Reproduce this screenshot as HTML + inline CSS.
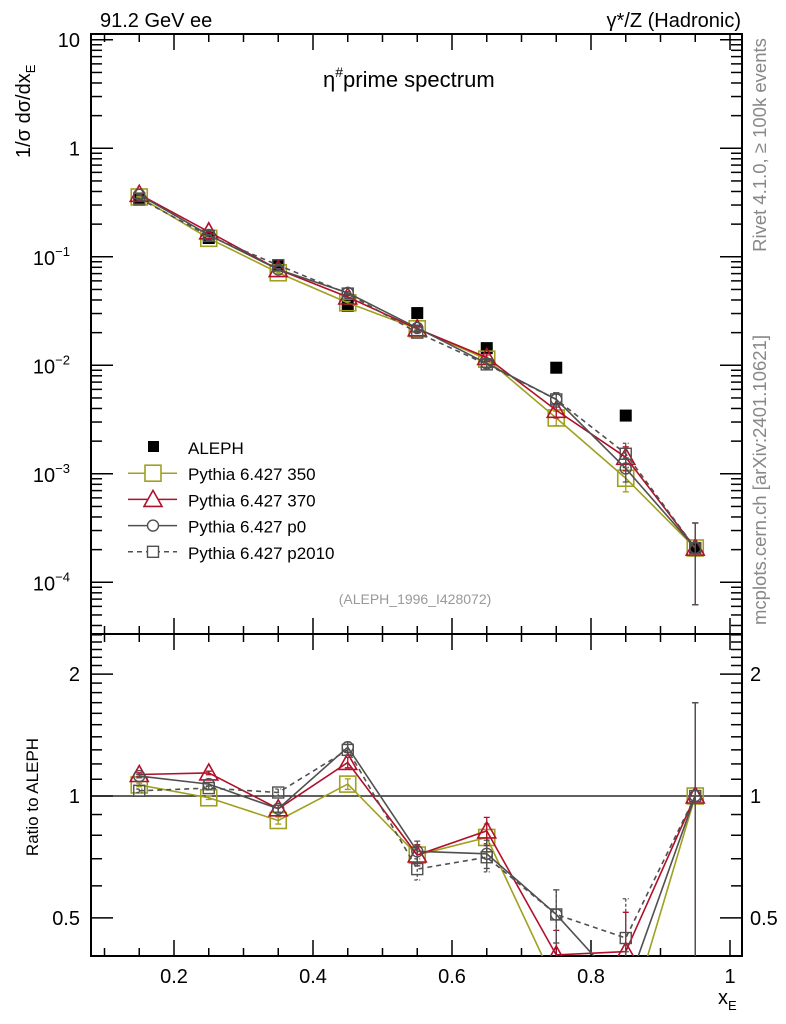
<!DOCTYPE html>
<html><head><meta charset="utf-8"><style>
html,body{margin:0;padding:0;background:#fff;width:786px;height:1024px;overflow:hidden}
svg{display:block;font-family:"Liberation Sans",sans-serif}
</style></head><body>
<svg id="c" width="786" height="1024" xmlns="http://www.w3.org/2000/svg">
<defs>
<clipPath id="cm"><rect x="91" y="34" width="651" height="600"/></clipPath>
<clipPath id="cr"><rect x="91" y="634" width="651" height="322"/></clipPath>
</defs>
<g id="frames"></g>
<g id="series-main" clip-path="url(#cm)"></g>
<g id="series-ratio" clip-path="url(#cr)"></g>
<g id="labels">
<text x="100" y="27" font-size="20">91.2 GeV ee</text>
<text x="741" y="27" font-size="20" text-anchor="end">γ*/Z (Hadronic)</text>
<text x="323" y="87" font-size="22">η<tspan font-size="14" dy="-10">#</tspan><tspan dy="10">prime spectrum</tspan></text>
<text x="415" y="604" font-size="14" fill="#999" text-anchor="middle">(ALEPH_1996_I428072)</text>
<text transform="translate(766,145) rotate(-90)" font-size="18.5" fill="#888" text-anchor="middle">Rivet 4.1.0, ≥ 100k events</text>
<text transform="translate(766,480) rotate(-90)" font-size="18.5" fill="#888" text-anchor="middle">mcplots.cern.ch [arXiv:2401.10621]</text>
<text transform="translate(30,158) rotate(-90)" font-size="20">1/σ  dσ/dx<tspan font-size="13" dy="5">E</tspan></text>
<text transform="translate(38,797) rotate(-90)" font-size="17" text-anchor="middle">Ratio to ALEPH</text>
<text x="718" y="1004" font-size="20">x<tspan font-size="13" dy="6">E</tspan></text>
</g>
<g id="legend"></g>
</svg>
<script>
const xs=[0.15,0.25,0.35,0.45,0.55,0.65,0.75,0.85,0.95];
const aleph=[0.334,0.149,0.082,0.0352,0.0303,0.0144,0.0095,0.00344,0.000207];
const m350=[0.356,0.148,0.0713,0.0377,0.0217,0.0114,0.00327,0.00091,0.000207];
const m370=[0.377,0.170,0.0763,0.0426,0.0217,0.0118,0.00385,0.00142,0.000207];
const mp0=[0.374,0.159,0.0763,0.0465,0.0221,0.0104,0.00485,0.00112,0.000207];
const mp2010=[0.344,0.156,0.0836,0.0458,0.0200,0.0102,0.00485,0.00153,0.000207];
const r350=[1.065,0.99,0.87,1.07,0.715,0.79,0.34,0.265,1.0];
const r370=[1.13,1.14,0.93,1.21,0.715,0.82,0.405,0.413,1.0];
const rp0=[1.12,1.07,0.93,1.32,0.73,0.72,0.51,0.33,1.0];
const rp2010=[1.03,1.046,1.02,1.30,0.66,0.706,0.51,0.446,1.0];
const relErr=[0.01,0.01,0.02,0.03,0.06,0.08,0.15,0.25,0.70];
const xTicks=[0.2,0.4,0.6,0.8,1];
const xTickLabels=["0.2","0.4","0.6","0.8","1"];
const rTicks=[0.5,1,2];
const rTickLabels=["0.5","1","2"];

const NS="http://www.w3.org/2000/svg";
const X=x=>313+(x-0.4)*695;
const YM=v=>148.3-108.5*Math.log10(v);
const YR=r=>796-405*Math.log10(r);
function mk(p,t,a){const e=document.createElementNS(NS,t);for(const k in a)e.setAttribute(k,a[k]);p.appendChild(e);return e;}
const fr=document.getElementById('frames');
let f1=mk(fr,'rect',{x:91,y:34,width:651,height:600,fill:'none',stroke:'#000','stroke-width':2});


let f2=mk(fr,'rect',{x:91,y:634,width:651,height:322,fill:'none',stroke:'#000','stroke-width':2});


for(let i=0;i<=18;i++){const xv=0.1+i*0.05;if(xv>1.01)break;const px=X(xv);const maj=Math.abs(xv*5-Math.round(xv*5))<1e-6;const L=maj?16:8;
 [[34,1],[634,-1],[634,1],[956,-1]].forEach(([y,d])=>{const t=mk(fr,'line',{x1:px,x2:px,y1:y,y2:y+d*L,stroke:'#000','stroke-width':1.5});
 
 });}
xTicks.forEach((v,i)=>{const t=mk(fr,'text',{x:X(v),y:983,'font-size':20,'text-anchor':'middle'});t.textContent=xTickLabels[i];
 
 });
for(let e=-5;e<=1;e++){for(let m=1;m<=9;m++){const v=m*Math.pow(10,e);const y=YM(v);if(y<34||y>634)continue;const L=m==1?22:11;
 [[91,1],[742,-1]].forEach(([x,d])=>{const t=mk(fr,'line',{x1:x,x2:x+d*L,y1:y,y2:y,stroke:'#000','stroke-width':1.5});
 
 });}}
const mLabels=[[10,'10',''],[1,'1',''],[0.1,'10','−1'],[0.01,'10','−2'],[0.001,'10','−3'],[0.0001,'10','−4']];
mLabels.forEach(([v,b,s])=>{const t=mk(fr,'text',{x:s?70:80,y:YM(v)+(s?8:7),'font-size':20,'text-anchor':'end'});t.textContent=b;
 if(s){const sp=mk(t,'tspan',{dy:-9,'font-size':13});sp.textContent=s;}
 
 });
for(let i=4;i<=25;i++){const r=i/10;if(r>2.5)break;const y=YR(r);if(y<634||y>956)continue;const maj=(i==5||i==10||i==20);const L=maj?22:11;
 [[91,1],[742,-1]].forEach(([x,d])=>{const t=mk(fr,'line',{x1:x,x2:x+d*L,y1:y,y2:y,stroke:'#000','stroke-width':1.5});
 
 });}
rTicks.forEach((v,i)=>{[[80,'end'],[750,'start']].forEach(([x,a])=>{const t=mk(fr,'text',{x:x,y:YR(v)+7,'font-size':20,'text-anchor':a});t.textContent=rTickLabels[i];
 
 });});
let ref=mk(fr,'line',{x1:91,x2:742,y1:YR(1),y2:YR(1),stroke:'#000','stroke-width':1.3});



function marker(g,type,x,y,col){
 if(type=='sq')return mk(g,'rect',{x:x-8,y:y-8,width:16,height:16,fill:'none',stroke:col,'stroke-width':1.6});
 if(type=='tri')return mk(g,'polygon',{points:`${x},${y-9} ${x+9},${y+7} ${x-9},${y+7}`,fill:'none',stroke:col,'stroke-width':1.6});
 if(type=='circ')return mk(g,'circle',{cx:x,cy:y,r:5.5,fill:'none',stroke:col,'stroke-width':1.4});
 if(type=='ssq')return mk(g,'rect',{x:x-5.5,y:y-5.5,width:11,height:11,fill:'none',stroke:col,'stroke-width':1.4});
}
const series=[
 {name:'pythia-350',main:m350,ratio:r350,col:'#a0a020',m:'sq',dash:''},
 {name:'pythia-370',main:m370,ratio:r370,col:'#b0102a',m:'tri',dash:''},
 {name:'pythia-p0',main:mp0,ratio:rp0,col:'#505050',m:'circ',dash:''},
 {name:'pythia-p2010',main:mp2010,ratio:rp2010,col:'#505050',m:'ssq',dash:'5,4'}];
const gm=document.getElementById('series-main'),gr=document.getElementById('series-ratio');
aleph.forEach((v,i)=>{const r=mk(gm,'rect',{x:X(xs[i])-6,y:YM(v)-6,width:12,height:12,fill:'#000'});
 
 });
series.forEach(s=>{
 [[gm,s.main,YM],[gr,s.ratio,YR]].forEach(([g,arr,Yf])=>{
  const pts=arr.map((v,i)=>X(xs[i])+','+Yf(v)).join(' ');
  const pl=mk(g,'polyline',{points:pts,fill:'none',stroke:s.col,'stroke-width':1.6,'stroke-dasharray':s.dash});
  
  
  arr.forEach((v,i)=>{const x=X(xs[i]);const e=relErr[i];
   const eb=mk(g,'path',{d:`M${x},${Yf(v*(1+e))}V${Yf(v*Math.max(1-e,0.05))}M${x-3},${Yf(v*(1+e))}h6M${x-3},${Yf(v*Math.max(1-e,0.05))}h6`,stroke:s.col,'stroke-width':1.3,fill:'none','stroke-dasharray':s.dash?'3,2':''});
   
   
   const mm=marker(g,s.m,x,Yf(v),s.col);
   
   });
 });
});
const lg=document.getElementById('legend');
const rows=[['ALEPH',null],['Pythia 6.427 350',series[0]],['Pythia 6.427 370',series[1]],['Pythia 6.427 p0',series[2]],['Pythia 6.427 p2010',series[3]]];
rows.forEach(([lab,s],i)=>{const y=447+i*26.2;
 const g=mk(lg,'g',{});
 
 
 if(!s){mk(g,'rect',{x:148,y:y-6,width:11,height:11,fill:'#000'});}
 else{mk(g,'line',{x1:128,x2:177,y1:y,y2:y,stroke:s.col,'stroke-width':1.5,'stroke-dasharray':s.dash});
  const mm=marker(g,s.m,153,y,s.col);mm.setAttribute('fill','#fff');}
 const t=mk(g,'text',{x:188,y:y+7,'font-size':17});t.textContent=lab;});
</script>
</body></html>
